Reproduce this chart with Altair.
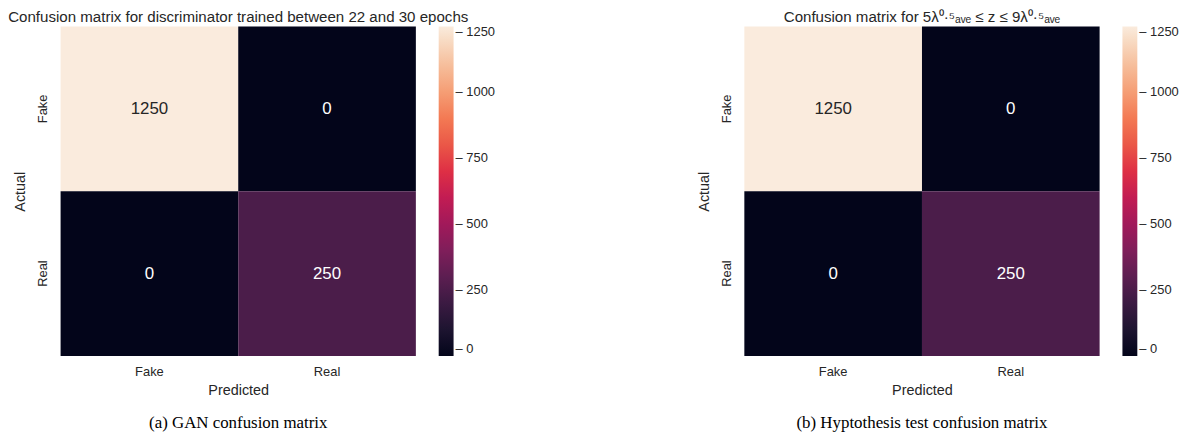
import altair as alt
import pandas as pd

# ---- data ----
actual = ["Fake", "Fake", "Real", "Real"]
predicted = ["Fake", "Real", "Fake", "Real"]
counts_a = [1250, 0, 0, 250]
counts_b = [1250, 0, 0, 250]
labels = ["Fake", "Real"]
colorbar_ticks = [0, 250, 500, 750, 1000, 1250]
titles = [
    "Confusion matrix for discriminator trained between 22 and 30 epochs",
    "Confusion matrix for 5λ⁰·⁵ₐᵥₑ ≤ z ≤ 9λ⁰·⁵ₐᵥₑ",
]
captions = ["(a) GAN confusion matrix", "(b) Hyptothesis test confusion matrix"]

# rocket colormap stops
rocket = ["#03051a", "#35193e", "#701f57", "#ad1759", "#e13342", "#f37651", "#f6b48f", "#faebdd"]
vmax = 1250
rocket_domain = [vmax * i / (len(rocket) - 1) for i in range(len(rocket))]

W, H = 358, 332
FONT = "Liberation Sans"
TXT = "#262626"


def panel(counts, title, caption):
    df = pd.DataFrame({"Actual": actual, "Predicted": predicted, "count": counts})
    base = alt.Chart(df)
    x = alt.X("Predicted:N", sort=labels, title="Predicted",
              axis=alt.Axis(labelAngle=0, ticks=False, domain=False, labelPadding=10,
                            titlePadding=5, labelFontSize=13, titleFontSize=14.5,
                            labelFont=FONT, titleFont=FONT, labelColor=TXT, titleColor=TXT,
                            titleFontWeight="normal"))
    y = alt.Y("Actual:N", sort=labels, title="Actual",
              axis=alt.Axis(labelAngle=-90, ticks=False, domain=False, labelPadding=11,
                            titlePadding=9, labelFontSize=13, titleFontSize=14.5,
                            labelFont=FONT, titleFont=FONT, labelColor=TXT, titleColor=TXT,
                            titleFontWeight="normal"))
    scale = alt.Scale(domain=rocket_domain, range=rocket)
    rect = base.mark_rect(strokeWidth=0).encode(
        x=x, y=y,
        color=alt.Color("count:Q", scale=scale,
                        legend=alt.Legend(title=None, orient="right", gradientLength=H,
                                          gradientThickness=15, values=colorbar_ticks,
                                          format="d",
                                          labelFontSize=13, labelFont=FONT, labelColor=TXT,
                                          offset=23, padding=0, gradientStrokeWidth=0,
                                          labelExpr="'– ' + datum.label", labelOffset=2)),
    )
    text = base.mark_text(fontSize=17, font=FONT).encode(
        x=alt.X("Predicted:N", sort=labels),
        y=alt.Y("Actual:N", sort=labels),
        text=alt.Text("count:Q"),
        color=alt.condition(alt.datum.count > 625, alt.value(TXT), alt.value("#ffffff")),
    )
    cap = alt.Chart(pd.DataFrame({"caption": [caption]})).mark_text(
        fontSize=17, font="Liberation Serif", color="#000000", baseline="alphabetic", align="center"
    ).encode(x=alt.value(W / 2), y=alt.value(H + 73), text="caption:N")
    return alt.layer(rect, text, cap).properties(
        width=W, height=H,
        title=alt.TitleParams(title, fontSize=15.2, font=FONT, fontWeight="normal", color=TXT,
                              anchor="middle", frame="group", offset=1),
    )


chart = alt.hconcat(
    panel(counts_a, titles[0], captions[0]),
    panel(counts_b, titles[1], captions[1]),
    spacing=203,
).resolve_scale(color="independent").configure_view(stroke=None).properties(
    padding={"left": 0, "top": 0, "right": 0, "bottom": 0}
)

chart.save("out.html", embed_options={"renderer": "svg", "actions": False})
